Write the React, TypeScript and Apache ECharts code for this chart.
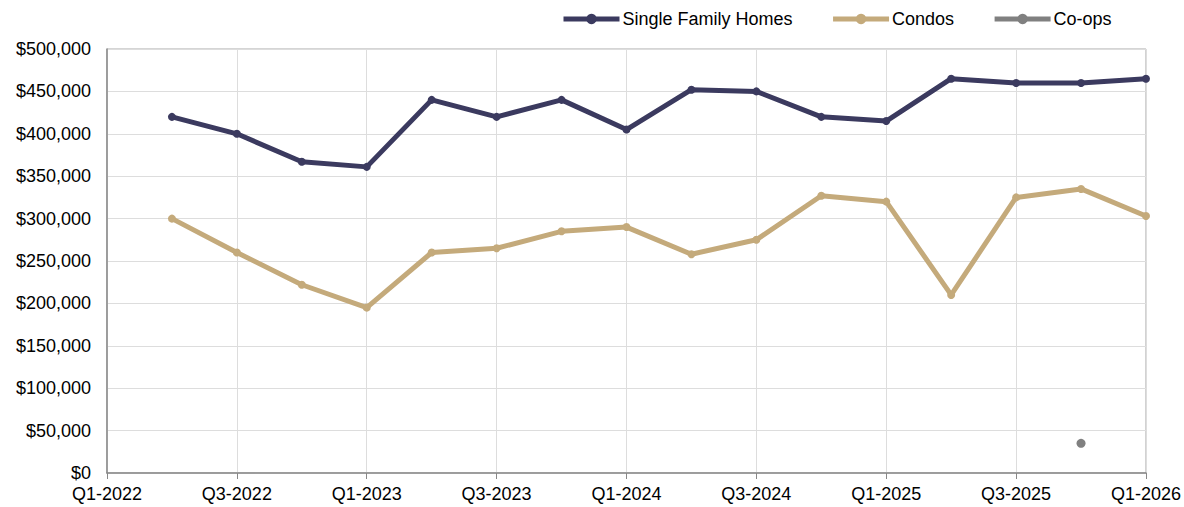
import React, { useEffect, useRef } from "react";
import * as echarts from "echarts";

const quarters = [
  "Q1-2022", "Q2-2022", "Q3-2022", "Q4-2022",
  "Q1-2023", "Q2-2023", "Q3-2023", "Q4-2023",
  "Q1-2024", "Q2-2024", "Q3-2024", "Q4-2024",
  "Q1-2025", "Q2-2025", "Q3-2025", "Q4-2025",
  "Q1-2026",
];
const singleFamily = [null, 420000, 400000, 367000, 361000, 440000, 420000, 440000, 405000, 452000, 450000, 420000, 415000, 465000, 460000, 460000, 465000];
const condos = [null, 300000, 260000, 222000, 195000, 260000, 265000, 285000, 290000, 258000, 275000, 327000, 320000, 210000, 325000, 335000, 303000];
const coops = [null, null, null, null, null, null, null, null, null, null, null, null, null, null, null, 35000, null];

const FONT = "'Liberation Sans', Arial, Helvetica, sans-serif";

export default function App() {
  const ref = useRef<HTMLDivElement>(null);
  useEffect(() => {
    const chart = echarts.init(ref.current!, null, { renderer: "svg" });
    const fmt = (v: number) => "$" + v.toLocaleString("en-US");
    chart.setOption({
      animation: false,
      textStyle: { fontFamily: FONT },
      legend: {
        top: 5,
        left: 556,
        itemWidth: 56,
        itemHeight: 13,
        itemGap: 38,
        lineStyle: { width: 5 },
        textStyle: { fontFamily: FONT, fontSize: 18, color: "#000", padding: [0, 0, 0, -2] },
        data: ["Single Family Homes", "Condos", "Co-ops"],
      },
      grid: { left: 107, right: 37, top: 49, bottom: 34, show: true, borderColor: "#aaa", borderWidth: 1 },
      xAxis: {
        type: "category",
        data: quarters,
        boundaryGap: false,
        axisLine: { lineStyle: { color: "#888", width: 1.5 } },
        axisTick: { show: true, interval: 1, length: 6, lineStyle: { color: "#888" } },
        axisLabel: { interval: 1, color: "#000", fontSize: 18, fontFamily: FONT, margin: 12 },
        splitLine: { show: true, interval: 1, lineStyle: { color: "#ddd" } },
      },
      yAxis: {
        type: "value",
        min: 0,
        max: 500000,
        interval: 50000,
        axisLine: { show: true, lineStyle: { color: "#888", width: 1.5 } },
        axisTick: { show: false },
        axisLabel: { color: "#000", fontSize: 18, fontFamily: FONT, margin: 16, formatter: fmt },
        splitLine: { lineStyle: { color: "#ddd" } },
      },
      series: [
        {
          name: "Single Family Homes",
          type: "line",
          data: singleFamily,
          color: "#3b3a5f",
          lineStyle: { width: 5 },
          symbol: "circle",
          symbolSize: 8,
          showAllSymbol: true,
        },
        {
          name: "Condos",
          type: "line",
          data: condos,
          color: "#c4aa7b",
          lineStyle: { width: 5 },
          symbol: "circle",
          symbolSize: 8,
          showAllSymbol: true,
        },
        {
          name: "Co-ops",
          type: "line",
          data: coops,
          color: "#808080",
          lineStyle: { width: 5 },
          symbol: "circle",
          symbolSize: 9,
          showAllSymbol: true,
        },
      ],
    });
    return () => chart.dispose();
  }, []);
  return <div ref={ref} style={{ width: 1184, height: 507, position: "absolute", left: 0, top: 0 }} />;
}
